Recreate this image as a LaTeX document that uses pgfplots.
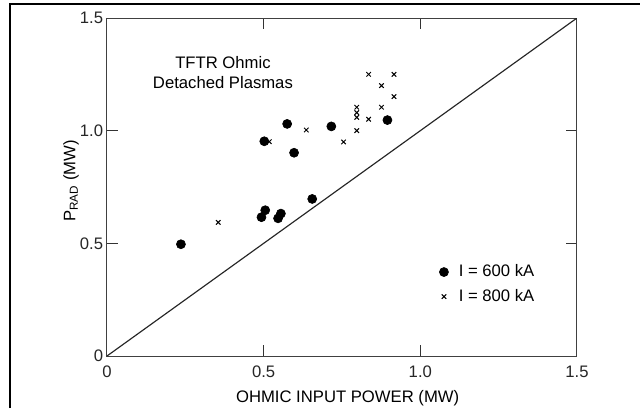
\documentclass[border=0pt]{standalone}
\usepackage{fontspec}
\setmainfont{Liberation Sans}
\usepackage{pgfplots}
\pgfplotsset{compat=1.18}
\begin{document}
\begin{tikzpicture}
\path[use as bounding box] (-64.2pt,-31.2pt) rectangle (319.8pt,213.6pt);
\draw[line width=1.6pt] (-58.2pt,-31.2pt) -- (-58.2pt,211.2pt) -- (319.8pt,211.2pt);
\begin{axis}[
  at={(0,0)}, anchor=south west,
  width=282pt, height=202.8pt, scale only axis,
  xmin=0, xmax=1.5, ymin=0, ymax=1.5,
  axis line style={black!75, line width=0.6pt},
  xtick={0,0.5,1,1.5}, ytick={0,0.5,1,1.5},
  xticklabels={0,0.5,1.0,1.5}, yticklabels={0,0.5,1.0,1.5},
  tick align=inside, tick pos=both,
  major tick length=6.6pt,
  tick style={black!80, line width=0.6pt},
  /pgf/number format/assume math mode=true,
  tick label style={font=\fontsize{10}{12}\selectfont, black!85},
  xticklabel style={yshift=-2.4pt},
  yticklabel style={xshift=1.2pt},
  xlabel={OHMIC INPUT POWER (MW)},
  ylabel={P\textsubscript{RAD} (MW)},
  every axis x label/.style={at={([yshift=-25.5pt]axis description cs:0.512,0)}, anchor=center, font=\fontsize{10}{12}\selectfont},
  every axis y label/.style={at={([xshift=-21.6pt]axis description cs:0,0.518)}, anchor=center, rotate=90, font=\fontsize{10}{12}\selectfont},
  legend style={draw=none, fill=none, at={(axis cs:1.044,0.318)}, anchor=west, font=\fontsize{10}{12}\selectfont, row sep=2pt},
  legend image code/.code={\path[draw=none,fill=none] (0pt,0pt) rectangle (9.6pt,0.1pt); \draw[#1] plot coordinates {(2.7pt,0pt)};},
  legend cell align=left,
]
\addplot[only marks, mark=*, mark size=2.7pt, black] coordinates {
(0.236,0.496) (0.493,0.616) (0.505,0.647) (0.546,0.611) (0.555,0.632)
(0.502,0.953) (0.575,1.030) (0.597,0.902) (0.655,0.697) (0.716,1.019) (0.895,1.047)
};
\addlegendentry{I = 600 kA}
\addplot[only marks, mark=x, mark size=1.9pt, black, mark options={line width=0.6pt}] coordinates {
(0.355,0.593) (0.518,0.951) (0.636,1.003) (0.755,0.950) (0.797,1.000)
(0.797,1.059) (0.797,1.080) (0.797,1.104) (0.835,1.051) (0.876,1.104)
(0.876,1.200) (0.835,1.250) (0.916,1.250) (0.916,1.151)
};
\addlegendentry{I = 800 kA}
\addplot[black!85, line width=0.7pt, forget plot] coordinates {(0,0) (1.5,1.5)};
\node[align=center, font=\fontsize{10}{12}\selectfont] at (axis cs:0.37,1.256) {TFTR Ohmic\\Detached Plasmas};
\end{axis}
\end{tikzpicture}
\end{document}
